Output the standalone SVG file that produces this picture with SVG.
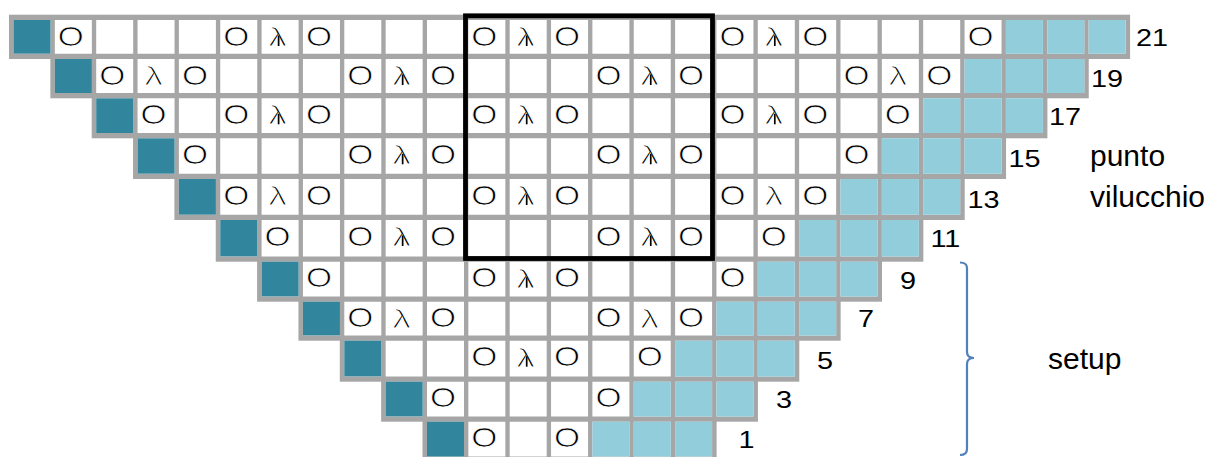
<svg xmlns="http://www.w3.org/2000/svg" width="1209" height="457" viewBox="0 0 1209 457">
<style>
.bg{fill:#a6a6a6}
.wh{stroke:#ffffff;stroke-dasharray:37 4.35;fill:none}
.lt{stroke:#92cddc;stroke-dasharray:37 4.35;fill:none}
.dk{fill:#31859c}
text{font-family:"Liberation Sans",Arial,sans-serif;fill:#000}
.o{font-size:27px;text-anchor:middle;stroke:#fff;stroke-width:0.75}
.l{font-size:25px;text-anchor:middle;stroke:#fff;stroke-width:1}
.n{font-size:24px;text-anchor:end}
.w{font-size:30px}
.st{stroke:#000;stroke-width:1.7}
</style>
<g id="grid-borders">
<rect class="bg" x="9" y="14.7" width="1121.1" height="44.3"/>
<rect class="bg" x="50.35" y="53.7" width="1038.4" height="44.6"/>
<rect class="bg" x="91.7" y="93" width="955.7" height="45.3"/>
<rect class="bg" x="133.05" y="133" width="873" height="46"/>
<rect class="bg" x="174.4" y="173.7" width="790.3" height="46.3"/>
<rect class="bg" x="215.75" y="214.7" width="707.6" height="47"/>
<rect class="bg" x="257.1" y="256.4" width="624.9" height="45.3"/>
<rect class="bg" x="298.45" y="296.4" width="542.2" height="44.3"/>
<rect class="bg" x="339.8" y="335.4" width="459.5" height="46.3"/>
<rect class="bg" x="381.15" y="376.4" width="376.8" height="45.3"/>
<rect class="bg" x="422.5" y="416.4" width="294.1" height="45.4"/>
</g>
<g id="row21">
<line class="wh" x1="13.5" y1="36.85" x2="1125.6" y2="36.85" stroke-width="33.7"/>
<rect class="dk" x="13.5" y="20" width="37" height="33.7"/>
<line class="lt" x1="1005.9" y1="36.85" x2="1125.6" y2="36.85" stroke-width="33.7"/>
<text class="o" transform="translate(70.85 45.5) scale(1.24 1)">O</text>
<text class="o" transform="translate(236.25 45.5) scale(1.24 1)">O</text>
<text class="o" transform="translate(318.95 45.5) scale(1.24 1)">O</text>
<text class="o" transform="translate(484.35 45.5) scale(1.24 1)">O</text>
<text class="o" transform="translate(567.05 45.5) scale(1.24 1)">O</text>
<text class="o" transform="translate(732.45 45.5) scale(1.24 1)">O</text>
<text class="o" transform="translate(815.15 45.5) scale(1.24 1)">O</text>
<text class="o" transform="translate(980.55 45.5) scale(1.24 1)">O</text>
<text class="l" transform="translate(277.6 46) scale(1.5 1)">λ</text>
<text class="l" transform="translate(525.7 46) scale(1.5 1)">λ</text>
<text class="l" transform="translate(773.8 46) scale(1.5 1)">λ</text>
<line class="st" x1="278.6" y1="35.5" x2="278.6" y2="46"/>
<line class="st" x1="526.7" y1="35.5" x2="526.7" y2="46"/>
<line class="st" x1="774.8" y1="35.5" x2="774.8" y2="46"/>
</g>
<g id="row19">
<line class="wh" x1="54.85" y1="76" x2="1084.25" y2="76" stroke-width="34"/>
<rect class="dk" x="54.85" y="59" width="37" height="34"/>
<line class="lt" x1="964.55" y1="76" x2="1084.25" y2="76" stroke-width="34"/>
<text class="o" transform="translate(112.2 84.5) scale(1.24 1)">O</text>
<text class="o" transform="translate(194.9 84.5) scale(1.24 1)">O</text>
<text class="o" transform="translate(360.3 84.5) scale(1.24 1)">O</text>
<text class="o" transform="translate(443 84.5) scale(1.24 1)">O</text>
<text class="o" transform="translate(608.4 84.5) scale(1.24 1)">O</text>
<text class="o" transform="translate(691.1 84.5) scale(1.24 1)">O</text>
<text class="o" transform="translate(856.5 84.5) scale(1.24 1)">O</text>
<text class="o" transform="translate(939.2 84.5) scale(1.24 1)">O</text>
<text class="l" transform="translate(153.55 85) scale(1.5 1)">λ</text>
<text class="l" transform="translate(897.85 85) scale(1.5 1)">λ</text>
<text class="l" transform="translate(401.65 85) scale(1.5 1)">λ</text>
<text class="l" transform="translate(649.75 85) scale(1.5 1)">λ</text>
<line class="st" x1="402.65" y1="74.5" x2="402.65" y2="85"/>
<line class="st" x1="650.75" y1="74.5" x2="650.75" y2="85"/>
</g>
<g id="row17">
<line class="wh" x1="96.2" y1="115.65" x2="1042.9" y2="115.65" stroke-width="34.7"/>
<rect class="dk" x="96.2" y="98.3" width="37" height="34.7"/>
<line class="lt" x1="923.2" y1="115.65" x2="1042.9" y2="115.65" stroke-width="34.7"/>
<text class="o" transform="translate(153.55 123.8) scale(1.24 1)">O</text>
<text class="o" transform="translate(236.25 123.8) scale(1.24 1)">O</text>
<text class="o" transform="translate(318.95 123.8) scale(1.24 1)">O</text>
<text class="o" transform="translate(484.35 123.8) scale(1.24 1)">O</text>
<text class="o" transform="translate(567.05 123.8) scale(1.24 1)">O</text>
<text class="o" transform="translate(732.45 123.8) scale(1.24 1)">O</text>
<text class="o" transform="translate(815.15 123.8) scale(1.24 1)">O</text>
<text class="o" transform="translate(897.85 123.8) scale(1.24 1)">O</text>
<text class="l" transform="translate(277.6 124.3) scale(1.5 1)">λ</text>
<text class="l" transform="translate(525.7 124.3) scale(1.5 1)">λ</text>
<text class="l" transform="translate(773.8 124.3) scale(1.5 1)">λ</text>
<line class="st" x1="278.6" y1="113.8" x2="278.6" y2="124.3"/>
<line class="st" x1="526.7" y1="113.8" x2="526.7" y2="124.3"/>
<line class="st" x1="774.8" y1="113.8" x2="774.8" y2="124.3"/>
</g>
<g id="row15">
<line class="wh" x1="137.55" y1="156" x2="1001.55" y2="156" stroke-width="35.4"/>
<rect class="dk" x="137.55" y="138.3" width="37" height="35.4"/>
<line class="lt" x1="881.85" y1="156" x2="1001.55" y2="156" stroke-width="35.4"/>
<text class="o" transform="translate(194.9 163.8) scale(1.24 1)">O</text>
<text class="o" transform="translate(360.3 163.8) scale(1.24 1)">O</text>
<text class="o" transform="translate(443 163.8) scale(1.24 1)">O</text>
<text class="o" transform="translate(608.4 163.8) scale(1.24 1)">O</text>
<text class="o" transform="translate(691.1 163.8) scale(1.24 1)">O</text>
<text class="o" transform="translate(856.5 163.8) scale(1.24 1)">O</text>
<text class="l" transform="translate(401.65 164.3) scale(1.5 1)">λ</text>
<text class="l" transform="translate(649.75 164.3) scale(1.5 1)">λ</text>
<line class="st" x1="402.65" y1="153.8" x2="402.65" y2="164.3"/>
<line class="st" x1="650.75" y1="153.8" x2="650.75" y2="164.3"/>
</g>
<g id="row13">
<line class="wh" x1="178.9" y1="196.85" x2="960.2" y2="196.85" stroke-width="35.7"/>
<rect class="dk" x="178.9" y="179" width="37" height="35.7"/>
<line class="lt" x1="840.5" y1="196.85" x2="960.2" y2="196.85" stroke-width="35.7"/>
<text class="o" transform="translate(236.25 204.5) scale(1.24 1)">O</text>
<text class="o" transform="translate(318.95 204.5) scale(1.24 1)">O</text>
<text class="o" transform="translate(484.35 204.5) scale(1.24 1)">O</text>
<text class="o" transform="translate(567.05 204.5) scale(1.24 1)">O</text>
<text class="o" transform="translate(732.45 204.5) scale(1.24 1)">O</text>
<text class="o" transform="translate(815.15 204.5) scale(1.24 1)">O</text>
<text class="l" transform="translate(277.6 205) scale(1.5 1)">λ</text>
<text class="l" transform="translate(773.8 205) scale(1.5 1)">λ</text>
<text class="l" transform="translate(525.7 205) scale(1.5 1)">λ</text>
<line class="st" x1="526.7" y1="194.5" x2="526.7" y2="205"/>
</g>
<g id="row11">
<line class="wh" x1="220.25" y1="238.2" x2="918.85" y2="238.2" stroke-width="36.4"/>
<rect class="dk" x="220.25" y="220" width="37" height="36.4"/>
<line class="lt" x1="799.15" y1="238.2" x2="918.85" y2="238.2" stroke-width="36.4"/>
<text class="o" transform="translate(277.6 245.5) scale(1.24 1)">O</text>
<text class="o" transform="translate(360.3 245.5) scale(1.24 1)">O</text>
<text class="o" transform="translate(443 245.5) scale(1.24 1)">O</text>
<text class="o" transform="translate(608.4 245.5) scale(1.24 1)">O</text>
<text class="o" transform="translate(691.1 245.5) scale(1.24 1)">O</text>
<text class="o" transform="translate(773.8 245.5) scale(1.24 1)">O</text>
<text class="l" transform="translate(401.65 246) scale(1.5 1)">λ</text>
<text class="l" transform="translate(649.75 246) scale(1.5 1)">λ</text>
<line class="st" x1="402.65" y1="235.5" x2="402.65" y2="246"/>
<line class="st" x1="650.75" y1="235.5" x2="650.75" y2="246"/>
</g>
<g id="row9">
<line class="wh" x1="261.6" y1="279.05" x2="877.5" y2="279.05" stroke-width="34.7"/>
<rect class="dk" x="261.6" y="261.7" width="37" height="34.7"/>
<line class="lt" x1="757.8" y1="279.05" x2="877.5" y2="279.05" stroke-width="34.7"/>
<text class="o" transform="translate(318.95 287.2) scale(1.24 1)">O</text>
<text class="o" transform="translate(484.35 287.2) scale(1.24 1)">O</text>
<text class="o" transform="translate(567.05 287.2) scale(1.24 1)">O</text>
<text class="o" transform="translate(732.45 287.2) scale(1.24 1)">O</text>
<text class="l" transform="translate(525.7 287.7) scale(1.5 1)">λ</text>
<line class="st" x1="526.7" y1="277.2" x2="526.7" y2="287.7"/>
</g>
<g id="row7">
<line class="wh" x1="302.95" y1="318.55" x2="836.15" y2="318.55" stroke-width="33.7"/>
<rect class="dk" x="302.95" y="301.7" width="37" height="33.7"/>
<line class="lt" x1="716.45" y1="318.55" x2="836.15" y2="318.55" stroke-width="33.7"/>
<text class="o" transform="translate(360.3 327.2) scale(1.24 1)">O</text>
<text class="o" transform="translate(443 327.2) scale(1.24 1)">O</text>
<text class="o" transform="translate(608.4 327.2) scale(1.24 1)">O</text>
<text class="o" transform="translate(691.1 327.2) scale(1.24 1)">O</text>
<text class="l" transform="translate(401.65 327.7) scale(1.5 1)">λ</text>
<text class="l" transform="translate(649.75 327.7) scale(1.5 1)">λ</text>
</g>
<g id="row5">
<line class="wh" x1="344.3" y1="358.55" x2="794.8" y2="358.55" stroke-width="35.7"/>
<rect class="dk" x="344.3" y="340.7" width="37" height="35.7"/>
<line class="lt" x1="675.1" y1="358.55" x2="794.8" y2="358.55" stroke-width="35.7"/>
<text class="o" transform="translate(484.35 366.2) scale(1.24 1)">O</text>
<text class="o" transform="translate(567.05 366.2) scale(1.24 1)">O</text>
<text class="o" transform="translate(649.75 366.2) scale(1.24 1)">O</text>
<text class="l" transform="translate(525.7 366.7) scale(1.5 1)">λ</text>
<line class="st" x1="526.7" y1="356.2" x2="526.7" y2="366.7"/>
</g>
<g id="row3">
<line class="wh" x1="385.65" y1="399.05" x2="753.45" y2="399.05" stroke-width="34.7"/>
<rect class="dk" x="385.65" y="381.7" width="37" height="34.7"/>
<line class="lt" x1="633.75" y1="399.05" x2="753.45" y2="399.05" stroke-width="34.7"/>
<text class="o" transform="translate(443 407.2) scale(1.24 1)">O</text>
<text class="o" transform="translate(608.4 407.2) scale(1.24 1)">O</text>
</g>
<g id="row1">
<line class="wh" x1="427" y1="439.1" x2="712.1" y2="439.1" stroke-width="34.8"/>
<rect class="dk" x="427" y="421.7" width="37" height="34.8"/>
<line class="lt" x1="592.4" y1="439.1" x2="712.1" y2="439.1" stroke-width="34.8"/>
<text class="o" transform="translate(484.35 447.2) scale(1.24 1)">O</text>
<text class="o" transform="translate(567.05 447.2) scale(1.24 1)">O</text>
</g>
<g id="repeat-box">
<rect x="465.5" y="15.8" width="247" height="242.7" fill="none" stroke="#000" stroke-width="4.8"/>
</g>
<g id="row-numbers">
<text class="n" transform="translate(1168 45.7) scale(1.2 1)">21</text>
<text class="n" transform="translate(1123 86.7) scale(1.2 1)">19</text>
<text class="n" transform="translate(1081 125) scale(1.2 1)">17</text>
<text class="n" transform="translate(1040.5 166.7) scale(1.2 1)">15</text>
<text class="n" transform="translate(999.5 207.8) scale(1.2 1)">13</text>
<text class="n" transform="translate(960.3 246.7) scale(1.2 1)">11</text>
<text class="n" transform="translate(916 288.5) scale(1.2 1)">9</text>
<text class="n" transform="translate(874 327.3) scale(1.2 1)">7</text>
<text class="n" transform="translate(833 369) scale(1.2 1)">5</text>
<text class="n" transform="translate(792 408.3) scale(1.2 1)">3</text>
<text class="n" transform="translate(754.6 448.3) scale(1.2 1)">1</text>
</g>
<g id="labels">
<text class="w" x="1090" y="165.7">punto</text>
<text class="w" x="1090" y="206.7">vilucchio</text>
<text class="w" x="1048" y="369.3">setup</text>
</g>
<g id="connectors">
<path d="M960 262.5 Q967 262.5 967 268 L967 352 Q967 358 974 358 Q967 358 967 364 L967 449 Q967 455 960 455" fill="none" stroke="#4f81bd" stroke-width="2.2"/>
</g>
</svg>
